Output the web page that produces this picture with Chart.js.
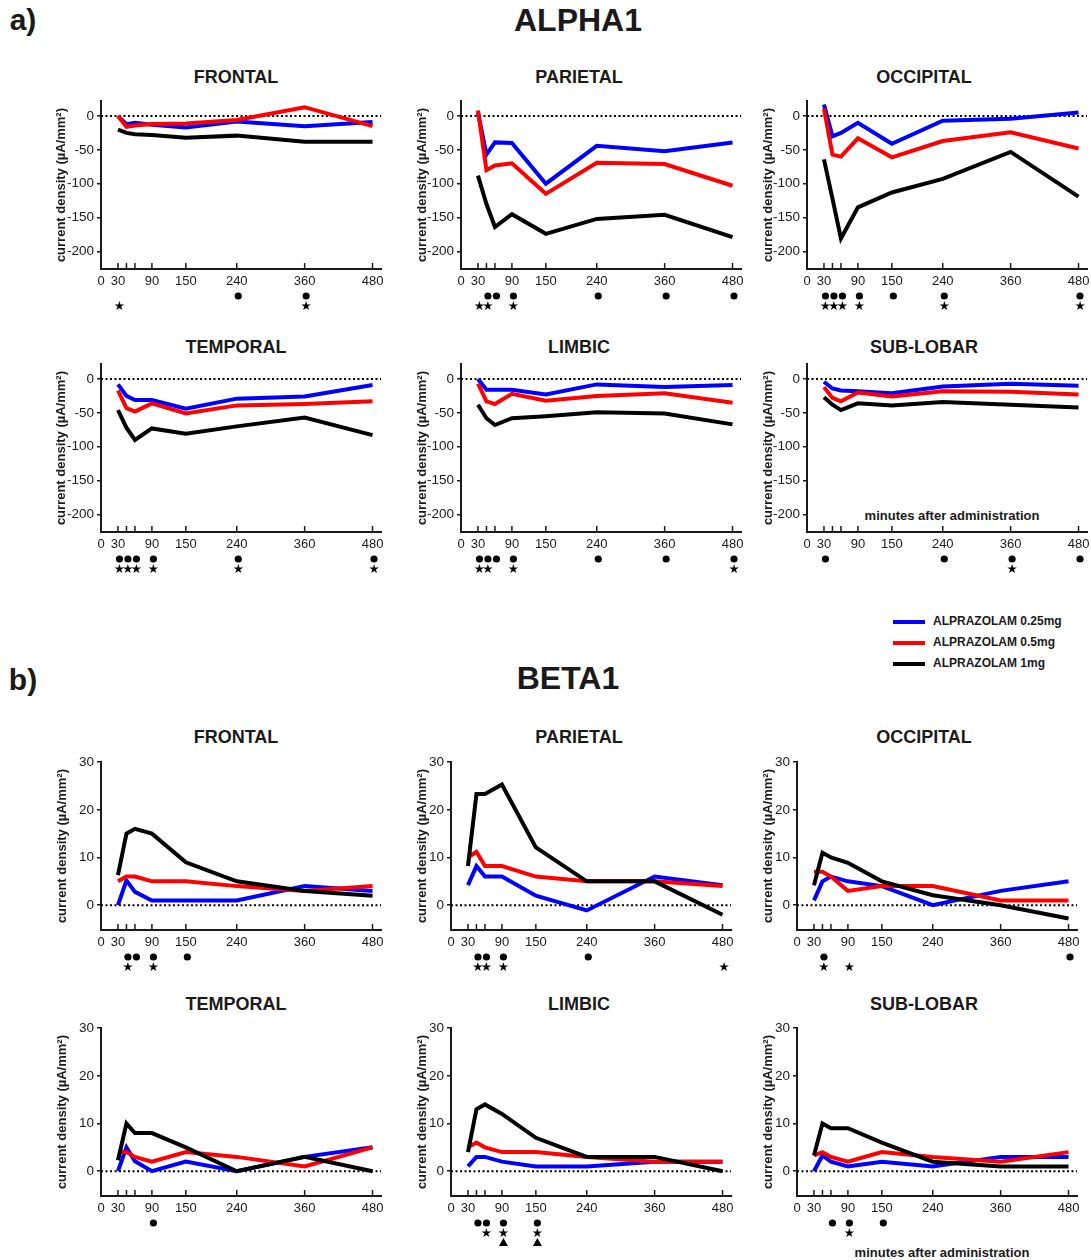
<!DOCTYPE html>
<html>
<head>
<meta charset="utf-8">
<script src="https://cdn.jsdelivr.net/npm/chart.js@4.4.1/dist/chart.umd.min.js"></script>
<style>
  body { margin: 0; background: #fff; width: 1091px; height: 1260px; position: relative; overflow: hidden;
         font-family: "Liberation Sans", Arial, sans-serif; color: #1a1a1a; }
  .t { position: absolute; transform: translate(-50%, -50%); font-weight: bold; white-space: nowrap; }
  .panel { position: absolute; }
  .leg { position: absolute; font-weight: bold; font-size: 12px; white-space: nowrap; }
  .leg span { display: inline-block; width: 32px; height: 4px; vertical-align: middle; margin-right: 8px; }
</style>
</head>
<body>
<div class="t" style="left:23px;top:20px;font-size:30px">a)</div>
<div class="t" style="left:578px;top:20px;font-size:32px">ALPHA1</div>
<div class="t" style="left:23px;top:680px;font-size:30px">b)</div>
<div class="t" style="left:568px;top:678px;font-size:32px">BETA1</div>
<div class="t" style="left:952px;top:515px;font-size:13px">minutes after administration</div>
<div class="t" style="left:942px;top:1252px;font-size:13px">minutes after administration</div>
<div id="legend"></div>

<script>
// sampling times (minutes after administration)
const TIMES = [30, 45, 60, 90, 150, 240, 360, 480];
const X_LABELS = [0, 30, 90, 150, 240, 360, 480];
const X_MARKS = [30, 45, 60, 90, 150, 240, 360, 480];
const ALPHA_TICKS = [0, -50, -100, -150, -200];
const BETA_TICKS = [0, 10, 20, 30];
const DOSES = ['ALPRAZOLAM 0.25mg', 'ALPRAZOLAM 0.5mg', 'ALPRAZOLAM 1mg'];
const COLORS = ['#0000ff', '#ff0000', '#000000'];

// rows: 0.25mg, 0.5mg, 1mg
const alphaFrontal = [
  [0, -12, -10, -13, -17, -8, -15, -9],
  [0, -16, -14, -12, -11, -6, 13, -15],
  [-20, -25, -27, -28, -32, -29, -38, -38]
];
const alphaParietal = [
  [5, -57, -39, -40, -100, -44, -52, -39],
  [8, -80, -73, -70, -115, -69, -71, -103],
  [-88, -130, -164, -145, -174, -152, -146, -179]
];
const alphaOccipital = [
  [17, -30, -25, -10, -41, -7, -4, 5],
  [11, -57, -60, -33, -61, -37, -24, -48],
  [-64, -122, -181, -135, -113, -93, -53, -119]
];
const alphaTemporal = [
  [-8, -25, -31, -31, -44, -29, -26, -9],
  [-17, -43, -48, -36, -51, -39, -37, -33],
  [-46, -72, -90, -73, -81, -70, -57, -83]
];
const alphaLimbic = [
  [0, -16, -16, -16, -23, -8, -12, -9],
  [-7, -33, -37, -22, -32, -25, -21, -35],
  [-38, -58, -68, -58, -55, -49, -51, -67]
];
const alphaSublobar = [
  [-4, -14, -17, -18, -21, -11, -7, -10],
  [-12, -28, -33, -20, -26, -18, -19, -23],
  [-27, -38, -46, -36, -39, -34, -38, -42]
];
const betaFrontal = [
  [0, 5.2, 2.8, 1, 1, 1, 4, 3],
  [5, 6, 6, 5, 5, 4, 3, 4],
  [6.3, 15, 16, 15, 9, 5, 3, 2]
];
const betaParietal = [
  [4.2, 8.2, 6, 6, 2, -1.1, 6, 4.2],
  [10, 11.2, 8.2, 8.2, 6, 5, 5, 4],
  [8.2, 23.3, 23.3, 25.3, 12.1, 5, 5, -2]
];
const betaOccipital = [
  [1, 5, 6, 5, 4, 0, 3, 5],
  [7, 7, 6, 3, 4, 4, 1, 1],
  [4.2, 11, 10, 8.9, 5, 2.1, 0, -2.8]
];
const betaTemporal = [
  [0, 5, 2.1, 0, 2, 0, 3, 5],
  [4, 4, 3, 2, 4, 3, 1, 5],
  [2.3, 10, 8, 8, 5, 0, 3, 0]
];
const betaLimbic = [
  [1, 3, 3, 2, 1, 1, 2, 2],
  [5, 6, 5, 4, 4, 3, 2, 2],
  [4, 13, 14, 12, 7, 3, 3, 0]
];
const betaSublobar = [
  [0, 3.3, 2, 1, 2, 1, 3, 3],
  [3.3, 4, 3, 2, 4, 3, 2, 4],
  [3.3, 10, 9, 9, 6, 2, 1, 1]
];

// significance marks under the time axis (dot / star / triangle rows)
const panels = [
  { name: 'FRONTAL',   data: alphaFrontal,   row: 0, col: 0, dots: [240, 360], stars: [30, 360], tris: [] },
  { name: 'PARIETAL',  data: alphaParietal,  row: 0, col: 1, dots: [45, 60, 90, 240, 360, 480], stars: [30, 45, 90], tris: [] },
  { name: 'OCCIPITAL', data: alphaOccipital, row: 0, col: 2, dots: [30, 45, 60, 90, 150, 240, 480], stars: [30, 45, 60, 90, 240, 480], tris: [] },
  { name: 'TEMPORAL',  data: alphaTemporal,  row: 1, col: 0, dots: [30, 45, 60, 90, 240, 480], stars: [30, 45, 60, 90, 240, 480], tris: [] },
  { name: 'LIMBIC',    data: alphaLimbic,    row: 1, col: 1, dots: [30, 45, 60, 90, 240, 360, 480], stars: [30, 45, 90, 480], tris: [] },
  { name: 'SUB-LOBAR', data: alphaSublobar,  row: 1, col: 2, dots: [30, 240, 360, 480], stars: [360], tris: [] },
  { name: 'FRONTAL',   data: betaFrontal,    row: 2, col: 0, dots: [45, 60, 90, 150], stars: [45, 90], tris: [] },
  { name: 'PARIETAL',  data: betaParietal,   row: 2, col: 1, dots: [45, 60, 90, 240], stars: [45, 60, 90, 480], tris: [] },
  { name: 'OCCIPITAL', data: betaOccipital,  row: 2, col: 2, dots: [45, 480], stars: [45, 90], tris: [] },
  { name: 'TEMPORAL',  data: betaTemporal,   row: 3, col: 0, dots: [90], stars: [], tris: [] },
  { name: 'LIMBIC',    data: betaLimbic,     row: 3, col: 1, dots: [45, 60, 90, 150], stars: [60, 90, 150], tris: [90, 150] },
  { name: 'SUB-LOBAR', data: betaSublobar,   row: 3, col: 2, dots: [60, 90, 150], stars: [90], tris: [] }
];

// layout
const AXIS_X_A = [101, 461, 807], AXIS_X_B = [101, 451, 797];
const YTITLE_X_A = [61, 422, 768], YTITLE_X_B = [62, 422, 768];
const ROW_TOP = [100, 363, 761, 1027];
const TITLE_Y = [77, 347, 737, 1004];
const TITLE_X = [236, 579, 924];
const PLOT_W = 280, PLOT_H = 169, PAD_T = 10, X_H = 20, PAD_B = 38, PAD_R = 12;

Chart.defaults.font.family = '"Liberation Sans", Arial, sans-serif';
Chart.defaults.color = '#1a1a1a';

const zeroLine = {
  id: 'zeroLine',
  beforeDatasetsDraw(chart) {
    const { ctx, chartArea, scales: { y } } = chart;
    const py = y.getPixelForValue(0);
    ctx.save();
    ctx.strokeStyle = '#000';
    ctx.lineWidth = 2;
    ctx.setLineDash([2, 2.5]);
    ctx.beginPath();
    ctx.moveTo(chartArea.left, py);
    ctx.lineTo(chartArea.right, py);
    ctx.stroke();
    ctx.restore();
  }
};

const marks = {
  id: 'marks',
  afterDraw(chart, args, opts) {
    const { ctx, chartArea, scales: { x } } = chart;
    const b = chartArea.bottom;
    ctx.save();
    ctx.strokeStyle = '#1a1a1a';
    ctx.lineWidth = 1.5;
    X_MARKS.forEach(t => {
      const px = x.getPixelForValue(t);
      ctx.beginPath();
      ctx.moveTo(px, b);
      ctx.lineTo(px, b - 6);
      ctx.stroke();
    });
    ctx.fillStyle = '#000';
    opts.dots.forEach(t => {
      ctx.beginPath();
      ctx.arc(x.getPixelForValue(t) + 1.5, b + 27, 3.6, 0, Math.PI * 2);
      ctx.fill();
    });
    ctx.font = '12.5px "DejaVu Sans"';
    ctx.textAlign = 'center';
    ctx.textBaseline = 'middle';
    opts.stars.forEach(t => ctx.fillText('★', x.getPixelForValue(t) + 1.5, b + 38));
    opts.tris.forEach(t => {
      const px = x.getPixelForValue(t) + 1.5;
      ctx.beginPath();
      ctx.moveTo(px, b + 42);
      ctx.lineTo(px + 4.5, b + 50);
      ctx.lineTo(px - 4.5, b + 50);
      ctx.closePath();
      ctx.fill();
    });
    ctx.restore();
  }
};

panels.forEach(p => {
  const alpha = p.row < 2;
  const axisX = (alpha ? AXIS_X_A : AXIS_X_B)[p.col];
  const titleCx = (alpha ? YTITLE_X_A : YTITLE_X_B)[p.col];
  const left = titleCx - 10;
  const yW = axisX - left;
  const w = yW + PLOT_W + PAD_R;
  const h = PAD_T + PLOT_H + X_H + PAD_B;

  const title = document.createElement('div');
  title.className = 't';
  title.style.cssText = `left:${TITLE_X[p.col]}px;top:${TITLE_Y[p.row]}px;font-size:18px`;
  title.textContent = p.name;
  document.body.appendChild(title);

  const box = document.createElement('div');
  box.className = 'panel';
  box.style.cssText = `left:${left}px;top:${ROW_TOP[p.row] - PAD_T}px;width:${w}px;height:${h}px`;
  const canvas = document.createElement('canvas');
  box.appendChild(canvas);
  document.body.appendChild(box);

  const datasets = p.data.map((vals, i) => ({
    label: DOSES[i],
    data: TIMES.map((t, k) => ({ x: t, y: vals[k] })),
    borderColor: COLORS[i],
    borderWidth: 4,
    pointRadius: 0,
    tension: 0,
    order: 2 - i
  }));

  new Chart(canvas, {
    type: 'line',
    data: { datasets },
    options: {
      responsive: true,
      maintainAspectRatio: false,
      animation: false,
      layout: { padding: { top: PAD_T, right: PAD_R, bottom: PAD_B, left: 0 } },
      plugins: {
        legend: { display: false },
        tooltip: { enabled: false },
        marks: { dots: p.dots, stars: p.stars, tris: p.tris }
      },
      scales: {
        x: {
          type: 'linear',
          min: 0,
          max: 495,
          afterBuildTicks: s => { s.ticks = X_LABELS.map(v => ({ value: v })); },
          afterFit: s => { s.height = X_H; },
          grid: { display: false, drawTicks: false },
          border: { display: true, color: '#1a1a1a', width: 2 },
          ticks: { autoSkip: false, maxRotation: 0, padding: 5, font: { size: 13 }, color: '#1a1a1a' }
        },
        y: {
          min: alpha ? -226 : -5.2,
          max: alpha ? 22 : 30,
          afterBuildTicks: s => { s.ticks = (alpha ? ALPHA_TICKS : BETA_TICKS).map(v => ({ value: v })); },
          afterFit: s => { s.width = yW; },
          grid: { drawOnChartArea: false, drawTicks: true, tickLength: 4, color: '#1a1a1a', lineWidth: 1.5 },
          border: { display: true, color: '#1a1a1a', width: 2 },
          ticks: { padding: 3, font: { size: 13.5 }, color: '#1a1a1a' },
          title: {
            display: true,
            text: 'current density (µA/mm²)',
            font: { size: 13, weight: 'bold' },
            color: '#1a1a1a',
            padding: { top: 2.2, bottom: 0 }
          }
        }
      }
    },
    plugins: [zeroLine, marks]
  });
});

// legend
const leg = document.getElementById('legend');
DOSES.forEach((d, i) => {
  const el = document.createElement('div');
  el.className = 'leg';
  el.style.left = '893px';
  el.style.top = (614 + i * 21) + 'px';
  el.innerHTML = `<span style="background:${COLORS[i]}"></span>${d}`;
  leg.appendChild(el);
});
</script>
</body>
</html>
